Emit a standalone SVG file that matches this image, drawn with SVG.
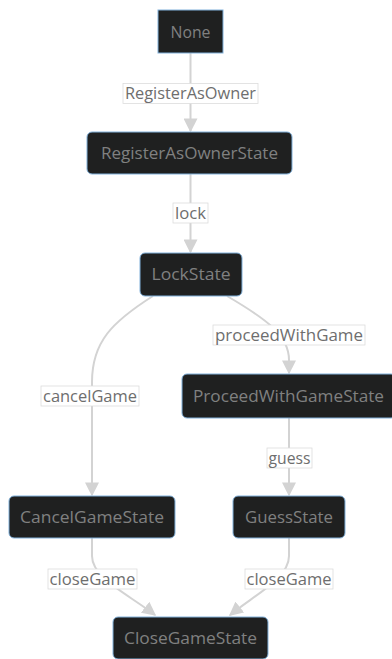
<svg xmlns="http://www.w3.org/2000/svg" width="392" height="659" viewBox="0 0 392 659">
  <style>
    .node rect { fill: #1f2020; stroke: #81b1db; stroke-width: 1; }
    .node text { font-family: "Open Sans", "DejaVu Sans", sans-serif; font-size: 16px; fill: #808080; text-anchor: middle; }
    .edge { fill: none; stroke: #d3d3d3; stroke-width: 2; }
    .elabel rect { fill: #ffffff; stroke: #dcdcdc; stroke-width: 0.8; }
    .elabel text { font-family: "Open Sans", "DejaVu Sans", sans-serif; font-size: 16px; fill: #6e6e6e; text-anchor: middle; }
  </style>
  <defs>
    <marker id="arrow" viewBox="0 0 10 10" refX="9" refY="5" markerWidth="7" markerHeight="7" markerUnits="strokeWidth" orient="auto">
      <path d="M0,0 L10,5 L0,10 z" fill="#d3d3d3"/>
    </marker>
  </defs>
  <rect width="392" height="659" fill="#ffffff"/>

  <!-- transitions -->
  <g id="connectors">
    <path class="edge" d="M190.5,53 L190.5,131" marker-end="url(#arrow)"/>
    <path class="edge" d="M190.5,174 L190.5,252" marker-end="url(#arrow)"/>
    <path class="edge" d="M153,296 C112,322 92,342 92,382 L92,495" marker-end="url(#arrow)"/>
    <path class="edge" d="M227,296 C268,320 289,336 289,360 L289,373" marker-end="url(#arrow)"/>
    <path class="edge" d="M289,418 L289,495" marker-end="url(#arrow)"/>
    <path class="edge" d="M92,538 L92,556 C92,578 128,594 155,615" marker-end="url(#arrow)"/>
    <path class="edge" d="M289,538 L289,556 C289,578 256,594 230,615" marker-end="url(#arrow)"/>
  </g>

  <g id="edge-labels">
    <g class="elabel"><rect x="123" y="83.5" width="135" height="20"/><text x="190.5" y="99" textLength="131" lengthAdjust="spacingAndGlyphs">RegisterAsOwner</text></g>
    <g class="elabel"><rect x="173" y="203" width="35" height="20"/><text x="190.5" y="218.5" textLength="31" lengthAdjust="spacingAndGlyphs">lock</text></g>
    <g class="elabel"><rect x="213" y="325" width="152" height="20"/><text x="289" y="340.5" textLength="148" lengthAdjust="spacingAndGlyphs">proceedWithGame</text></g>
    <g class="elabel"><rect x="41" y="386" width="98" height="20"/><text x="90" y="401.5" textLength="94" lengthAdjust="spacingAndGlyphs">cancelGame</text></g>
    <g class="elabel"><rect x="267" y="448" width="45" height="20"/><text x="289.5" y="463.5" textLength="42" lengthAdjust="spacingAndGlyphs">guess</text></g>
    <g class="elabel"><rect x="48" y="569" width="89" height="20"/><text x="92.5" y="584.5" textLength="86" lengthAdjust="spacingAndGlyphs">closeGame</text></g>
    <g class="elabel"><rect x="245" y="569" width="88" height="20"/><text x="289" y="584.5" textLength="85" lengthAdjust="spacingAndGlyphs">closeGame</text></g>
  </g>

  <g id="None" class="node">
    <rect x="158" y="10" width="65" height="43"/>
    <text x="190.5" y="37.5" textLength="40" lengthAdjust="spacingAndGlyphs">None</text>
  </g>
  <g id="RegisterAsOwnerState" class="node">
    <rect x="87" y="132" width="205" height="42" rx="5"/>
    <text x="189.5" y="158.5" textLength="177" lengthAdjust="spacingAndGlyphs">RegisterAsOwnerState</text>
  </g>
  <g id="LockState" class="node">
    <rect x="140" y="253" width="102" height="43" rx="5"/>
    <text x="191" y="280" textLength="79" lengthAdjust="spacingAndGlyphs">LockState</text>
  </g>
  <g id="ProceedWithGameState" class="node">
    <rect x="182" y="374" width="214" height="44" rx="5"/>
    <text x="288.5" y="401.5" textLength="191" lengthAdjust="spacingAndGlyphs">ProceedWithGameState</text>
  </g>
  <g id="CancelGameState" class="node">
    <rect x="9" y="496" width="166" height="42" rx="5"/>
    <text x="92" y="522.5" textLength="144" lengthAdjust="spacingAndGlyphs">CancelGameState</text>
  </g>
  <g id="GuessState" class="node">
    <rect x="233" y="496" width="112" height="42" rx="5"/>
    <text x="289" y="522.5" textLength="88" lengthAdjust="spacingAndGlyphs">GuessState</text>
  </g>
  <g id="CloseGameState" class="node">
    <rect x="113" y="617" width="155" height="42" rx="5"/>
    <text x="190.5" y="643.5" textLength="133" lengthAdjust="spacingAndGlyphs">CloseGameState</text>
  </g>
</svg>
